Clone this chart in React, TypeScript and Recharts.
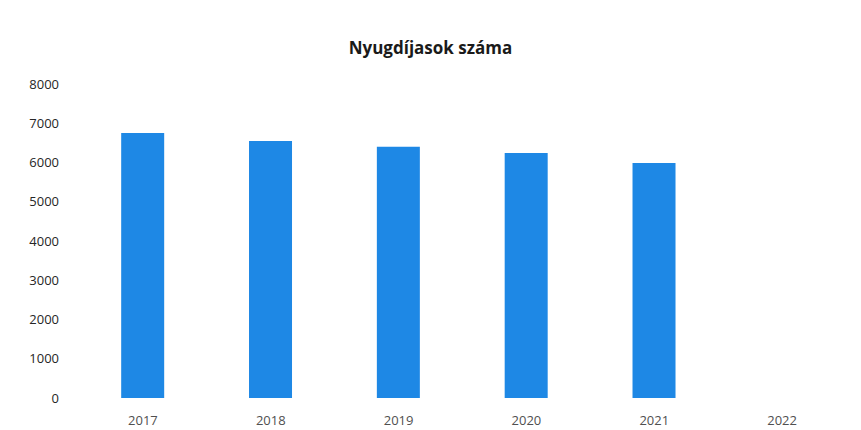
import React from "react";
import { BarChart, Bar, XAxis, YAxis } from "recharts";

const years = ["2017", "2018", "2019", "2020", "2021", "2022"];
const pensioners: (number | null)[] = [6750, 6550, 6400, 6240, 5990, null];
const yTicks = [0, 1000, 2000, 3000, 4000, 5000, 6000, 7000, 8000];
const title = "Nyugdíjasok száma";

const data = years.map((y, i) => ({ year: y, value: pensioners[i] }));

export default function App() {
  return (
    <div style={{ position: "absolute", left: 0, top: 0, width: 861, height: 430, background: "#fff" }}>
      <div
        style={{
          position: "absolute",
          left: 0,
          top: 36,
          width: 861,
          textAlign: "center",
          fontFamily: "'Open Sans', sans-serif",
          fontWeight: 700,
          fontSize: 17,
          color: "#1a1a1a",
        }}
      >
        {title}
      </div>
      <BarChart
        width={861}
        height={430}
        data={data}
        margin={{ top: 84, right: 15, left: 0, bottom: 0 }}
        barCategoryGap="33%"
      >
        <XAxis
          dataKey="year"
          height={32}
          axisLine={false}
          tickLine={false}
          tickMargin={12}
          tick={{ fill: "#505050", fontSize: 13, fontFamily: "'Open Sans', sans-serif" }}
        />
        <YAxis
          width={79}
          domain={[0, 8000]}
          ticks={yTicks}
          axisLine={false}
          tickLine={false}
          tickMargin={14}
          tick={{ fill: "#262626", fontSize: 13, fontFamily: "'Open Sans', sans-serif" }}
        />
        <Bar dataKey="value" fill="#1E88E5" isAnimationActive={false} />
      </BarChart>
    </div>
  );
}
